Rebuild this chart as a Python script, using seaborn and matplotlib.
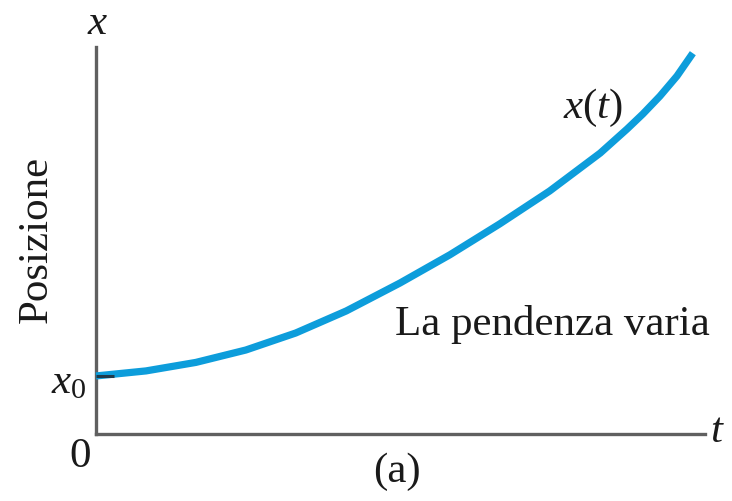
import matplotlib
matplotlib.use("Agg")
import matplotlib.pyplot as plt
import seaborn as sns
import pandas as pd

# Position curve x(t), sampled along the time axis
t_vals = [0.0, 0.82, 1.64, 2.46, 3.28, 4.11, 4.99, 5.81, 6.63, 7.45,
          8.28, 8.72, 8.98, 9.26, 9.54, 9.80]
pos_vals = [1.50, 1.63, 1.85, 2.17, 2.61, 3.18, 3.90, 4.63, 5.43, 6.28,
            7.26, 7.88, 8.27, 8.73, 9.25, 9.84]

x0 = pos_vals[0]

sns.set_style("white")
plt.rcParams["font.family"] = ["Liberation Serif", "DejaVu Serif"]
plt.rcParams["mathtext.fontset"] = "custom"
plt.rcParams["mathtext.rm"] = "Liberation Serif"
plt.rcParams["mathtext.it"] = "Liberation Serif:italic"

fig = plt.figure(figsize=(7.32, 5.01), dpi=100)
ax = fig.add_axes([96 / 732, 1 - 434 / 501, 609 / 732, 387 / 501])

df = pd.DataFrame({"t": t_vals, "x": pos_vals})
sns.lineplot(data=df, x="t", y="x", ax=ax, color="#0d9ddb", linewidth=5.2,
             solid_capstyle="butt", solid_joinstyle="round",
             clip_on=False, zorder=3)

# short dark mark where the curve meets the position axis
ax.plot([0, 0.3], [x0, x0], color="#1f3a4a", linewidth=2.2,
        solid_capstyle="butt", clip_on=False, zorder=4)

ax.set_xlim(0, 10)
ax.set_ylim(0, 10)
ax.set_xticks([])
ax.set_yticks([])
ax.set_xlabel("")
ax.set_ylabel("")
for side in ("top", "right"):
    ax.spines[side].set_visible(False)
for side in ("left", "bottom"):
    ax.spines[side].set_color("#606060")
    ax.spines[side].set_linewidth(2.4)

fs = 31
tc = "#1a1a1a"
ax.text(0.02, 10.6, "$x$", fontsize=fs, ha="center", va="center", color=tc, clip_on=False)
ax.text(10.2, 0.05, "$t$", fontsize=fs, ha="center", va="center", color=tc, clip_on=False)
ax.text(8.16, 8.42, "$x(t)$", fontsize=fs, ha="center", va="center", color=tc, clip_on=False)
ax.text(7.49, 2.56, "La pendenza varia", fontsize=fs, ha="center", va="baseline",
        color=tc, clip_on=False)
ax.text(-0.97, 5.04, "Posizione", fontsize=fs, ha="center", va="center",
        rotation=90, color=tc, clip_on=False)
ax.text(-0.15, x0 - 0.18, "$x_0$", fontsize=fs, ha="right", va="center", color=tc, clip_on=False)
ax.text(-0.26, -0.59, "0", fontsize=fs, ha="center", va="center", color=tc, clip_on=False)
ax.text(4.94, -0.98, "(a)", fontsize=fs, ha="center", va="center", color=tc, clip_on=False)

fig.savefig("out.png", dpi=100)
